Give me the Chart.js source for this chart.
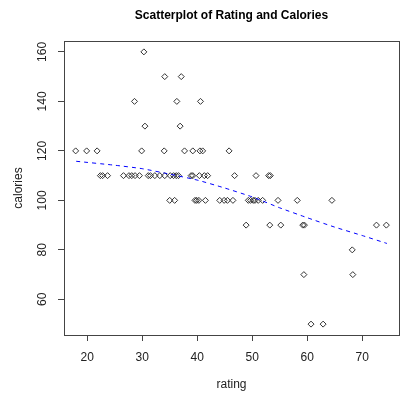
<!DOCTYPE html>
<html>
<head>
<meta charset="utf-8">
<script src="https://cdn.jsdelivr.net/npm/chart.js@4"></script>
<style>
  html, body { margin: 0; padding: 0; background: #fff; overflow: hidden; }
</style>
</head>
<body>
<canvas id="scatter" width="404" height="398"></canvas>
<script>
// cereal rating vs calories
const ratingVals = [
  30.3,
  34.1, 37.1,
  28.6, 36.3, 40.6,
  30.5, 36.9,
  17.9, 19.9, 21.8, 29.9, 34.0, 37.7, 39.2, 40.5, 41.0, 45.8,
  22.4, 22.8, 23.7, 26.6, 27.6, 28.1, 28.7, 29.5, 31.1, 31.5, 32.3, 33.2, 34.1,
  35.1, 35.7, 36.2, 36.6, 38.9, 39.2, 40.4, 41.3, 41.9, 46.8, 50.7, 53.0, 53.3,
  35.0, 35.9, 39.6, 39.9, 40.3, 41.5, 44.1, 44.9, 45.5, 46.5, 49.3, 49.7, 50.2,
  50.5, 51.1, 51.9, 54.7, 58.2, 64.5,
  48.9, 53.2, 55.2, 59.2, 59.5, 72.6, 74.4,
  68.2,
  59.4, 68.3,
  60.7, 62.9
];
const calorieVals = [
  160,
  150, 150,
  140, 140, 140,
  130, 130,
  120, 120, 120, 120, 120, 120, 120, 120, 120, 120,
  110, 110, 110, 110, 110, 110, 110, 110, 110, 110, 110, 110, 110,
  110, 110, 110, 110, 110, 110, 110, 110, 110, 110, 110, 110, 110,
  100, 100, 100, 100, 100, 100, 100, 100, 100, 100, 100, 100, 100,
  100, 100, 100, 100, 100, 100,
  90, 90, 90, 90, 90, 90, 90,
  80,
  70, 70,
  50, 50
];
// smoothed trend (dashed blue)
const trendRating = [18, 25, 30, 35, 40, 45, 50, 55, 60, 65, 70, 74.5];
const trendCalories = [115.8, 114.2, 112.8, 110.6, 108.2, 105.0, 101.4, 97.0, 93.0, 89.2, 85.8, 82.6];

const xTicks = [20, 30, 40, 50, 60, 70];
const yTicks = [60, 80, 100, 120, 140, 160];

const FONT = "'Liberation Sans', Arial, sans-serif";

const points = ratingVals.map((r, i) => ({x: r, y: calorieVals[i]}));
const trend = trendRating.map((r, i) => ({x: r, y: trendCalories[i]}));

// box round the plot and rotated y labels, like base R graphics
const rStyle = {
  id: 'rStyle',
  afterDraw(chart) {
    const c = chart.ctx;
    const a = chart.chartArea;
    c.save();
    c.strokeStyle = '#444';
    c.lineWidth = 1;
    c.strokeRect(Math.round(a.left) + 0.5, Math.round(a.top) + 0.5,
                 Math.round(a.right - a.left), Math.round(a.bottom - a.top));
    const ys = chart.scales.y;
    c.fillStyle = '#222';
    c.font = '12px ' + FONT;
    c.textAlign = 'center';
    c.textBaseline = 'middle';
    yTicks.forEach(v => {
      const py = ys.getPixelForValue(v);
      c.save();
      c.translate(43, py);
      c.rotate(-Math.PI / 2);
      c.fillText(String(v), 0, 0);
      c.restore();
    });
    c.restore();
  }
};

new Chart(document.getElementById('scatter'), {
  type: 'scatter',
  data: {
    datasets: [
      {
        label: 'cereals',
        data: points,
        pointStyle: 'rectRot',
        pointRadius: 3,
        pointBorderWidth: 1,
        borderColor: '#333',
        backgroundColor: 'rgba(0,0,0,0)',
        order: 2
      },
      {
        label: 'trend',
        type: 'line',
        data: trend,
        showLine: true,
        borderColor: '#0000ff',
        borderWidth: 1,
        borderDash: [4, 4],
        pointRadius: 0,
        fill: false,
        tension: 0.2,
        order: 1
      }
    ]
  },
  options: {
    responsive: false,
    animation: false,
    layout: { padding: { left: 0, right: 1, top: 0, bottom: 0 } },
    plugins: {
      legend: { display: false },
      tooltip: { enabled: false },
      title: {
        display: true,
        text: 'Scatterplot of Rating and Calories',
        fullSize: false,
        color: '#000',
        font: { family: FONT, size: 12, weight: 'bold' },
        padding: { top: 8, bottom: 18.6 }
      }
    },
    scales: {
      x: {
        type: 'linear',
        min: 15.78,
        max: 76.7,
        border: { display: false },
        grid: { drawOnChartArea: false, drawTicks: true, tickLength: 6, color: '#444' },
        afterBuildTicks: s => { s.ticks = xTicks.map(v => ({value: v})); },
        afterFit: s => { s.height = 63; },
        ticks: {
          includeBounds: false,
          maxRotation: 0,
          padding: 9,
          color: '#222',
          font: { family: FONT, size: 12 }
        },
        title: {
          display: true,
          text: 'rating',
          color: '#222',
          font: { family: FONT, size: 12 },
          padding: { top: 0, bottom: 5.8 }
        }
      },
      y: {
        type: 'linear',
        min: 45.6,
        max: 164.4,
        border: { display: false },
        grid: { drawOnChartArea: false, drawTicks: true, tickLength: 6, color: '#444' },
        afterBuildTicks: s => { s.ticks = yTicks.map(v => ({value: v})); },
        afterFit: s => { s.width = 64; },
        ticks: {
          includeBounds: false,
          color: 'rgba(0,0,0,0)',
          font: { family: FONT, size: 12 }
        },
        title: {
          display: true,
          text: 'calories',
          color: '#222',
          font: { family: FONT, size: 12 },
          padding: { top: 11, bottom: 0 }
        }
      }
    }
  },
  plugins: [rStyle]
});
</script>
</body>
</html>
